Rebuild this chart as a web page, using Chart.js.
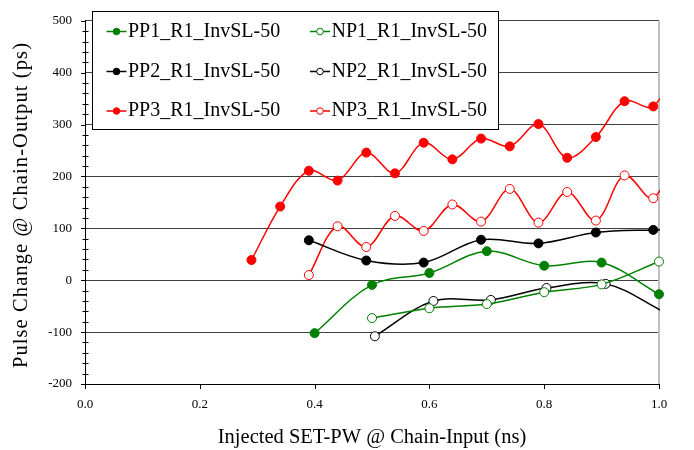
<!DOCTYPE html>
<html>
<head>
<meta charset="utf-8">
<script src="https://cdn.jsdelivr.net/npm/chart.js@4.4.1/dist/chart.umd.min.js"></script>
<style>
  html, body { margin: 0; padding: 0; background: #ffffff; }
  #wrap { width: 694px; height: 450px; }
</style>
</head>
<body>
<div id="wrap"><canvas id="c" width="694" height="450"></canvas></div>
<script>
// ---- data ----
const seriesNames = ['PP1_R1_InvSL-50', 'NP1_R1_InvSL-50', 'PP2_R1_InvSL-50', 'NP2_R1_InvSL-50', 'PP3_R1_InvSL-50', 'NP3_R1_InvSL-50'];
const xTitle = 'Injected SET-PW @ Chain-Input (ns)';
const yTitle = 'Pulse Change @ Chain-Output (ps)';

const pp1X = [0.4, 0.5, 0.6, 0.7, 0.8, 0.9, 1.0];
const pp1Y = [-102, -9, 14, 56, 28, 34, -27];

const np1X = [0.5, 0.6, 0.7, 0.8, 0.9, 1.0];
const np1Y = [-73, -54, -46, -23, -8, 36];

const pp2X = [0.39, 0.49, 0.59, 0.69, 0.79, 0.89, 0.99, 1.09];
const pp2Y = [77, 38, 34, 78, 71, 92, 97, 100];

const np2X = [0.505, 0.607, 0.707, 0.804, 0.907, 1.007];
const np2Y = [-108, -40, -38, -15, -7, -60];

const pp3X = [0.29, 0.34, 0.39, 0.44, 0.49, 0.54, 0.59, 0.64, 0.69, 0.74, 0.79, 0.84, 0.89, 0.94, 0.99, 1.04];
const pp3Y = [39, 142, 211, 192, 246, 206, 265, 233, 273, 258, 301, 236, 276, 345, 335, 440];

const np3X = [0.39, 0.44, 0.49, 0.54, 0.59, 0.64, 0.69, 0.74, 0.79, 0.84, 0.89, 0.94, 0.99, 1.04];
const np3Y = [10, 104, 64, 124, 95, 146, 113, 176, 111, 170, 115, 202, 158, 280];

const xTickValues = [0.0, 0.2, 0.4, 0.6, 0.8, 1.0];
const yMin = -200, yMax = 500, yMajorStep = 100, yMinorStep = 20;

const GREEN = '#008000', BLACK = '#000000', RED = '#ff0000';
const SERIF = '"Liberation Serif", "Times New Roman", serif';

function pts(xs, ys) { return xs.map((x, i) => ({ x: x, y: ys[i] })); }

function ds(label, xs, ys, color, filled, clipRight) {
  return {
    label: label,
    data: pts(xs, ys),
    borderColor: color,
    backgroundColor: filled ? color : '#ffffff',
    pointBorderColor: color,
    pointBackgroundColor: filled ? color : '#ffffff',
    pointBorderWidth: 1,
    pointRadius: (ctx) => (ctx.raw && ctx.raw.x > 1.0001) ? 0 : 4.5,
    pointHoverRadius: 4.5,
    borderWidth: 1.5,
    tension: 0.35,
    fill: false,
    clip: clipRight ? { left: false, top: false, right: 1, bottom: false } : false,
    _filled: filled
  };
}

const datasets = [
  ds(seriesNames[0], pp1X, pp1Y, GREEN, true, false),
  ds(seriesNames[1], np1X, np1Y, GREEN, false, false),
  ds(seriesNames[2], pp2X, pp2Y, BLACK, true, true),
  ds(seriesNames[3], np2X, np2Y, BLACK, false, true),
  ds(seriesNames[4], pp3X, pp3Y, RED, true, true),
  ds(seriesNames[5], np3X, np3Y, RED, false, true)
];

// plot frame extras: right border + tick marks + y title
const framePlugin = {
  id: 'frame',
  beforeDatasetsDraw(chart) {
    const { ctx, chartArea } = chart;
    ctx.save();
    ctx.strokeStyle = '#c0c0c0';
    ctx.lineWidth = 2;
    ctx.beginPath();
    ctx.moveTo(chartArea.right, chartArea.top);
    ctx.lineTo(chartArea.right, chartArea.bottom);
    ctx.stroke();
    ctx.restore();
  },
  afterDatasetsDraw(chart) {
    const { ctx, chartArea } = chart;
    const ys = chart.scales.y, xs = chart.scales.x;
    ctx.save();
    ctx.strokeStyle = '#000000';
    ctx.lineWidth = 1;
    const ax = Math.round(chartArea.left) + 0.5;
    ys.ticks.forEach(t => {
      const py = Math.round(ys.getPixelForValue(t.value)) + 0.5;
      ctx.beginPath();
      if (Math.abs(t.value % yMajorStep) < 1e-6) {
        ctx.moveTo(ax - 4.5, py); ctx.lineTo(ax, py);
      } else {
        ctx.moveTo(ax - 3, py); ctx.lineTo(ax + 3, py);
      }
      ctx.stroke();
    });
    const ay = Math.round(chartArea.bottom) + 0.5;
    xs.ticks.forEach(t => {
      const px = Math.round(xs.getPixelForValue(t.value)) + 0.5;
      ctx.beginPath();
      ctx.moveTo(px, ay); ctx.lineTo(px, ay + 4.5);
      ctx.stroke();
    });
    // y axis title (rotated, slightly letter-spaced like the reference)
    ctx.translate(21.5, 205);
    ctx.rotate(-Math.PI / 2);
    ctx.font = '20.5px ' + SERIF;
    if ('letterSpacing' in ctx) ctx.letterSpacing = '1.1px';
    ctx.fillStyle = '#000000';
    ctx.textAlign = 'center';
    ctx.textBaseline = 'middle';
    ctx.fillText(yTitle, 0, 0);
    ctx.restore();
  }
};

// legend drawn inside the plot, 2 columns x 3 rows
const legendPlugin = {
  id: 'boxLegend',
  afterDraw(chart) {
    const { ctx } = chart;
    const box = { x: 92.5, y: 11.5, w: 406, h: 118 };
    ctx.save();
    ctx.fillStyle = '#ffffff';
    ctx.fillRect(box.x, box.y, box.w, box.h);
    ctx.strokeStyle = '#000000';
    ctx.lineWidth = 1;
    ctx.strokeRect(box.x, box.y, box.w, box.h);
    const colX = [106.5, 310];
    const rowY = [31.5, 71.5, 111];
    ctx.font = '20px ' + SERIF;
    ctx.textBaseline = 'middle';
    ctx.textAlign = 'left';
    chart.data.datasets.forEach((d, i) => {
      const col = i % 2, row = Math.floor(i / 2);
      const lx = colX[col], ly = rowY[row];
      ctx.strokeStyle = d.borderColor;
      ctx.lineWidth = 1.5;
      ctx.beginPath();
      ctx.moveTo(lx, ly); ctx.lineTo(lx + 20, ly);
      ctx.stroke();
      ctx.beginPath();
      ctx.arc(lx + 10, ly, 3.3, 0, Math.PI * 2);
      ctx.fillStyle = d._filled ? d.borderColor : '#ffffff';
      ctx.fill();
      ctx.lineWidth = 1;
      ctx.stroke();
      ctx.fillStyle = '#000000';
      ctx.fillText(d.label, lx + 21.5, ly);
    });
    ctx.restore();
  }
};

new Chart(document.getElementById('c'), {
  type: 'line',
  data: { datasets: datasets },
  options: {
    responsive: false,
    animation: false,
    devicePixelRatio: 1,
    layout: { padding: { left: 0, top: 15, right: 35, bottom: 0 } },
    plugins: {
      legend: { display: false },
      tooltip: { enabled: false },
      title: { display: false }
    },
    scales: {
      x: {
        type: 'linear',
        min: 0,
        max: 1,
        afterBuildTicks: (s) => { s.ticks = xTickValues.map(v => ({ value: v })); },
        afterFit: (s) => { s.height = 66; },
        ticks: {
          callback: (v) => Number(v).toFixed(1),
          color: '#000000',
          font: { family: SERIF, size: 13 },
          padding: 13,
          maxRotation: 0,
          autoSkip: false
        },
        grid: { display: true, drawOnChartArea: false, drawTicks: false, color: 'transparent' },
        border: { display: true, color: '#000000', width: 1 },
        title: {
          display: true,
          text: xTitle,
          color: '#000000',
          font: { family: SERIF, size: 20.5, lineHeight: 1 },
          padding: { top: 0, bottom: 2 }
        }
      },
      y: {
        type: 'linear',
        min: yMin,
        max: yMax,
        afterFit: (s) => { s.width = 85; },
        ticks: {
          stepSize: yMinorStep,
          autoSkip: false,
          callback: (v) => (Math.abs(v % yMajorStep) < 1e-6 ? String(v) : ''),
          color: '#000000',
          font: { family: SERIF, size: 13 },
          padding: 13
        },
        grid: {
          drawTicks: false,
          color: (c) => (c.tick && Math.abs(c.tick.value % yMajorStep) < 1e-6) ? '#404040' : 'transparent',
          lineWidth: 1
        },
        border: { display: true, color: '#000000', width: 1 },
        title: { display: false }
      }
    }
  },
  plugins: [framePlugin, legendPlugin]
});
</script>
</body>
</html>
